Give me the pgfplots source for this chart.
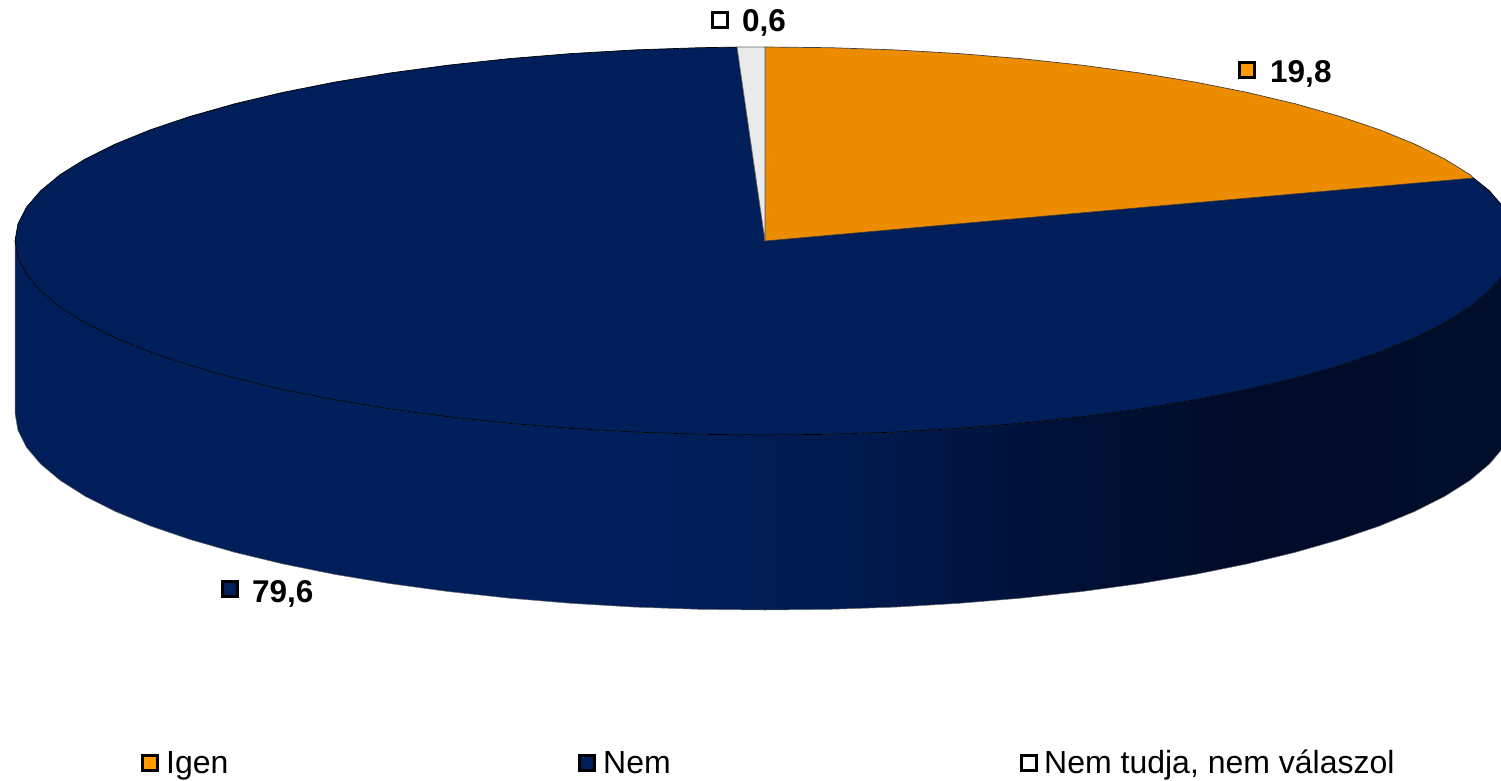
\documentclass[border=0pt]{standalone}
\usepackage{pgfplots}
\pgfplotsset{compat=1.18}
\usepackage{fontspec}
\setmainfont{Liberation Sans}
\definecolor{navy}{HTML}{001E5A}
\definecolor{navyb}{HTML}{001A4E}
\definecolor{navyc}{HTML}{001036}
\definecolor{navyd}{HTML}{000B28}
\definecolor{navye}{HTML}{000E2C}
\definecolor{pieorange}{HTML}{EE8C00}
\definecolor{legorange}{HTML}{FF9900}
\definecolor{piegrey}{HTML}{EAEAEA}
\pgfdeclarehorizontalshading{sidewall}{100bp}{color(0bp)=(navy); color(46bp)=(navy); color(53bp)=(navyb); color(60bp)=(navyc); color(66bp)=(navyd); color(75bp)=(navye); color(100bp)=(navye)}
\newcommand{\lab}[1]{\fontsize{31.5}{32}\selectfont\bfseries #1}
\newcommand{\leg}[1]{\fontsize{32}{32}\selectfont #1}
\begin{document}
\begin{tikzpicture}
\useasboundingbox (0,0) rectangle (1501pt,781pt);
\begin{axis}[
  at={(0,0)}, anchor=south west,
  scale only axis, width=1501pt, height=781pt,
  xmin=0, xmax=1501, ymin=0, ymax=781, y dir=reverse,
  hide axis, clip=true,
]
% side wall
\addplot[shading=sidewall, draw=black!60, line width=0.5pt] coordinates {
(1515,241)(1512.1,257.9)(1503.6,274.7)(1489.4,291.2)(1469.8,307.4)(1444.7,323)(1414.5,338)(1379.4,352.3)(1339.5,365.7)(1295.3,378.2)(1247.1,389.6)(1195.2,399.9)(1140,409)(1082,416.8)(1021.5,423.3)(959.1,428.4)(895.2,432.1)(830.4,434.3)(765,435)
(699.6,434.3)(634.8,432.1)(570.9,428.4)(508.5,423.3)(448,416.8)(390,409)(334.8,399.9)(282.9,389.6)(234.7,378.2)(190.5,365.7)(150.6,352.3)(115.5,338)(85.3,323)(60.2,307.4)(40.6,291.2)(26.4,274.7)(17.9,257.9)(15,241)
(15,413)(17.9,430.2)(26.4,447.2)(40.6,464)(60.2,480.4)(85.3,496.3)(115.5,511.5)(150.6,526)(190.5,539.6)(234.7,552.3)(282.9,563.9)(334.8,574.4)(390,583.6)(448,591.5)(508.5,598.1)(570.9,603.3)(634.8,607.1)(699.6,609.3)(765,610)
(830.4,609.3)(895.2,607.1)(959.1,603.3)(1021.5,598.1)(1082,591.5)(1140,583.6)(1195.2,574.4)(1247.1,563.9)(1295.3,552.3)(1339.5,539.6)(1379.4,526)(1414.5,511.5)(1444.7,496.3)(1469.8,480.4)(1489.4,464)(1503.6,447.2)(1512.1,430.2)(1515,413)
} -- cycle;
% Nem 79.6
\addplot[fill=navy, draw=black, line width=0.7pt] coordinates {
(765,241)(1473.5,178)(1489.4,190.8)(1503.6,207.3)(1512.1,224.1)(1515,241)
(1512.1,257.9)(1503.6,274.7)(1489.4,291.2)(1469.8,307.4)(1444.7,323)(1414.5,338)(1379.4,352.3)(1339.5,365.7)(1295.3,378.2)(1247.1,389.6)(1195.2,399.9)(1140,409)(1082,416.8)(1021.5,423.3)(959.1,428.4)(895.2,432.1)(830.4,434.3)(765,435)
(699.6,434.3)(634.8,432.1)(570.9,428.4)(508.5,423.3)(448,416.8)(390,409)(334.8,399.9)(282.9,389.6)(234.7,378.2)(190.5,365.7)(150.6,352.3)(115.5,338)(85.3,323)(60.2,307.4)(40.6,291.2)(26.4,274.7)(17.9,257.9)(15,241)
(17.9,224.1)(26.4,207.3)(40.6,190.8)(60.2,174.6)(85.3,159)(115.5,144)(150.6,129.7)(190.5,116.3)(234.7,103.8)(282.9,92.4)(334.8,82.1)(390,73)(448,65.2)(508.5,58.7)(570.9,53.6)(634.8,49.9)(699.6,47.7)(737,47.1)
} -- cycle;
% Igen 19.8
\addplot[fill=pieorange, draw=black!75, line width=0.7pt] coordinates {
(765,241)(765,47)(830.4,47.7)(895.2,49.9)(959.1,53.6)(1021.5,58.7)(1082,65.2)(1140,73)(1195.2,82.1)(1247.1,92.4)(1295.3,103.8)(1339.5,116.3)(1379.4,129.7)(1414.5,144)(1444.7,159)(1469.8,174.6)(1473.5,178)
} -- cycle;
% Nem tudja 0.6
\addplot[fill=piegrey, draw=black!60, line width=0.7pt] coordinates {
(765,241)(737,47.1)(765,47)
} -- cycle;
% label keys
\addplot[only marks, mark=square*, mark size=7.7pt, mark options={draw=black, line width=3pt, fill=white}] coordinates {(720,20)};
\addplot[only marks, mark=square*, mark size=7.7pt, mark options={draw=black, line width=3pt, fill=legorange}] coordinates {(1247,70)};
\addplot[only marks, mark=square*, mark size=7.7pt, mark options={draw=black, line width=3pt, fill=navy}] coordinates {(230,589)};
\addplot[only marks, mark=square*, mark size=7.7pt, mark options={draw=black, line width=3pt, fill=legorange}] coordinates {(150,763)};
\addplot[only marks, mark=square*, mark size=7.7pt, mark options={draw=black, line width=3pt, fill=navy}] coordinates {(587,763)};
\addplot[only marks, mark=square*, mark size=7.7pt, mark options={draw=black, line width=3pt, fill=white}] coordinates {(1029,763)};
\node[anchor=base west, inner sep=0pt] at (axis cs:742,32) {\lab{0,6}};
\node[anchor=base west, inner sep=0pt] at (axis cs:1270,83) {\lab{19,8}};
\node[anchor=base west, inner sep=0pt] at (axis cs:252,602) {\lab{79,6}};
\node[anchor=base west, inner sep=0pt] at (axis cs:166,773) {\leg{Igen}};
\node[anchor=base west, inner sep=0pt] at (axis cs:603,773) {\leg{Nem}};
\node[anchor=base west, inner sep=0pt] at (axis cs:1044,773) {\leg{Nem tudja, nem válaszol}};
\end{axis}
\end{tikzpicture}
\end{document}
